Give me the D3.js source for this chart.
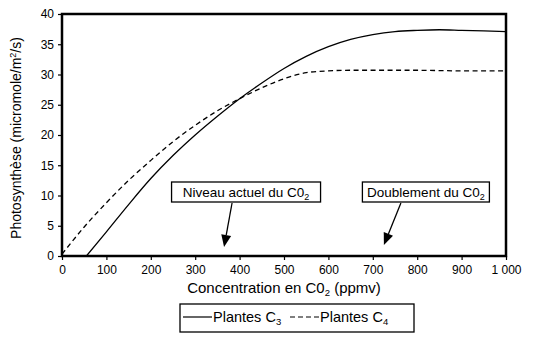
<!DOCTYPE html>
<html>
<head>
<meta charset="utf-8">
<script src="https://cdn.jsdelivr.net/npm/d3@7"></script>
<style>
  html, body { margin: 0; padding: 0; background: #fff; }
  svg text { font-family: "Liberation Sans", Arial, Helvetica, sans-serif; fill: #000; }
</style>
</head>
<body>
<svg id="chart" width="534" height="337"></svg>
<script>
// CO2 concentration (ppmv) and photosynthesis rate (micromole/m²/s)
const c3Ppm   = [55, 100, 150, 200, 250, 300, 350, 400, 450, 500, 550, 600, 650, 700, 750, 800, 850, 900, 950, 1000];
const c3Rate  = [0, 4.0, 8.5, 12.8, 16.6, 20.0, 23.1, 26.0, 28.6, 31.0, 33.0, 34.6, 35.8, 36.6, 37.1, 37.3, 37.4, 37.3, 37.2, 37.1];
const c4Ppm   = [0, 50, 100, 150, 200, 250, 300, 350, 400, 450, 500, 550, 600, 650, 700, 800, 900, 1000];
const c4Rate  = [0.3, 4.8, 8.8, 12.5, 15.8, 18.9, 21.6, 24.0, 26.0, 27.8, 29.3, 30.3, 30.6, 30.7, 30.7, 30.7, 30.6, 30.6];

const xTicks = [0, 100, 200, 300, 400, 500, 600, 700, 800, 900, 1000];
const yTicks = [0, 5, 10, 15, 20, 25, 30, 35, 40];

// annotated CO2 levels: label, arrow tip (ppmv, rate)
const annotLabels = ["Niveau actuel du C0", "Doublement du C0"];
const annotPpm    = [365, 725];
const annotRate   = [1.5, 1.8];

const legendLabels = ["Plantes C", "Plantes C"];
const legendSubs   = ["3", "4"];

const W = 534, H = 337;
const margin = { left: 62, right: 28, top: 14, bottom: 81 };
const svg = d3.select("#chart");

const x = d3.scaleLinear().domain([0, 1000]).range([margin.left, W - margin.right]);
const y = d3.scaleLinear().domain([0, 40]).range([H - margin.bottom, margin.top]);

const frLocale = d3.formatLocale({ decimal: ",", thousands: "\u00a0", grouping: [3], currency: ["", " €"] });
const fmt = frLocale.format(",");

// axes
const xAxis = svg.append("g")
  .attr("transform", `translate(0,${y(0)})`)
  .call(d3.axisBottom(x).tickValues(xTicks).tickFormat(fmt).tickSize(4).tickSizeOuter(0));
const yAxis = svg.append("g")
  .attr("transform", `translate(${x(0)},0)`)
  .call(d3.axisLeft(y).tickValues(yTicks).tickSize(4).tickSizeOuter(0));
[xAxis, yAxis].forEach(g => {
  g.select(".domain").remove();
  g.selectAll(".tick line").attr("stroke", "#000").attr("stroke-width", 1.2);
  g.selectAll(".tick text").attr("font-size", 12).attr("font-family", "Liberation Sans, Arial, sans-serif").attr("fill", "#000");
});
xAxis.selectAll(".tick text").attr("dy", "0.9em");
yAxis.selectAll(".tick text").attr("dx", "-1px");

// plot frame
svg.append("rect")
  .attr("x", x(0)).attr("y", y(40))
  .attr("width", x(1000) - x(0)).attr("height", y(0) - y(40))
  .attr("fill", "none").attr("stroke", "#000").attr("stroke-width", 2.5);

// curves
const line = d3.line().curve(d3.curveMonotoneX);
svg.append("path")
  .attr("d", line(c3Ppm.map((p, i) => [x(p), y(c3Rate[i])])))
  .attr("fill", "none").attr("stroke", "#000").attr("stroke-width", 1.3);
svg.append("path")
  .attr("d", line(c4Ppm.map((p, i) => [x(p), y(c4Rate[i])])))
  .attr("fill", "none").attr("stroke", "#000").attr("stroke-width", 1.3)
  .attr("stroke-dasharray", "5,3.5");

// annotations: labelled box with an arrow pointing to the CO2 level
const boxOffsets = [{ dx: 22, w: 149 }, { dx: 42, w: 127 }];
annotLabels.forEach((lab, i) => {
  const tx = x(annotPpm[i]), ty = y(annotRate[i]);
  const bx = tx + boxOffsets[i].dx, by = 192;
  const bw = boxOffsets[i].w, bh = 20;
  svg.append("rect")
    .attr("x", bx - bw / 2).attr("y", by - bh / 2).attr("width", bw).attr("height", bh)
    .attr("fill", "#fff").attr("stroke", "#000").attr("stroke-width", 1.3);
  const t = svg.append("text").attr("x", bx).attr("y", by + 4.5)
    .attr("text-anchor", "middle").attr("font-size", 13.5);
  t.append("tspan").text(lab);
  t.append("tspan").attr("font-size", 9).attr("dy", 3).text("2");

  // arrow shaft from box bottom to tip
  const sx = i === 0 ? tx + 8 : tx + 17, sy = by + bh / 2 + 1;
  const ang = Math.atan2(ty - sy, tx - sx);
  const hl = 12, hw = 5;
  const bxh = tx - hl * Math.cos(ang), byh = ty - hl * Math.sin(ang);
  svg.append("line").attr("x1", sx).attr("y1", sy).attr("x2", bxh).attr("y2", byh)
    .attr("stroke", "#000").attr("stroke-width", 1.3);
  const px = -Math.sin(ang), py = Math.cos(ang);
  svg.append("path")
    .attr("d", `M${tx},${ty}L${bxh + px * hw},${byh + py * hw}L${bxh - px * hw},${byh - py * hw}Z`)
    .attr("fill", "#000");
});

// axis titles
const yt = svg.append("text")
  .attr("transform", `translate(21,${(y(0) + y(40)) / 2 + 3}) rotate(-90)`)
  .attr("text-anchor", "middle").attr("font-size", 14);
yt.append("tspan").text("Photosynthèse (micromole/m");
yt.append("tspan").attr("font-size", 9).attr("dy", -5).text("2");
yt.append("tspan").attr("dy", 5).text("/s)");

const xt = svg.append("text")
  .attr("x", (x(0) + x(1000)) / 2).attr("y", 293)
  .attr("text-anchor", "middle").attr("font-size", 15);
xt.append("tspan").text("Concentration en C0");
xt.append("tspan").attr("font-size", 9.5).attr("dy", 3).text("2");
xt.append("tspan").attr("dy", -3).text(" (ppmv)");

// legend
const lg = svg.append("g");
lg.append("rect").attr("x", 180).attr("y", 304).attr("width", 234).attr("height", 28)
  .attr("fill", "#fff").attr("stroke", "#000").attr("stroke-width", 1.3);
const legendDash = [null, "5,3"];
const legendX = [183, 290];
legendLabels.forEach((lab, i) => {
  lg.append("line").attr("x1", legendX[i]).attr("x2", legendX[i] + 29)
    .attr("y1", 317).attr("y2", 317)
    .attr("stroke", "#000").attr("stroke-width", 1.2)
    .attr("stroke-dasharray", legendDash[i]);
  const t = lg.append("text").attr("x", legendX[i] + 30).attr("y", 322).attr("font-size", 14.5);
  t.append("tspan").text(lab);
  t.append("tspan").attr("font-size", 9.5).attr("dy", 3).text(legendSubs[i]);
});
</script>
</body>
</html>
